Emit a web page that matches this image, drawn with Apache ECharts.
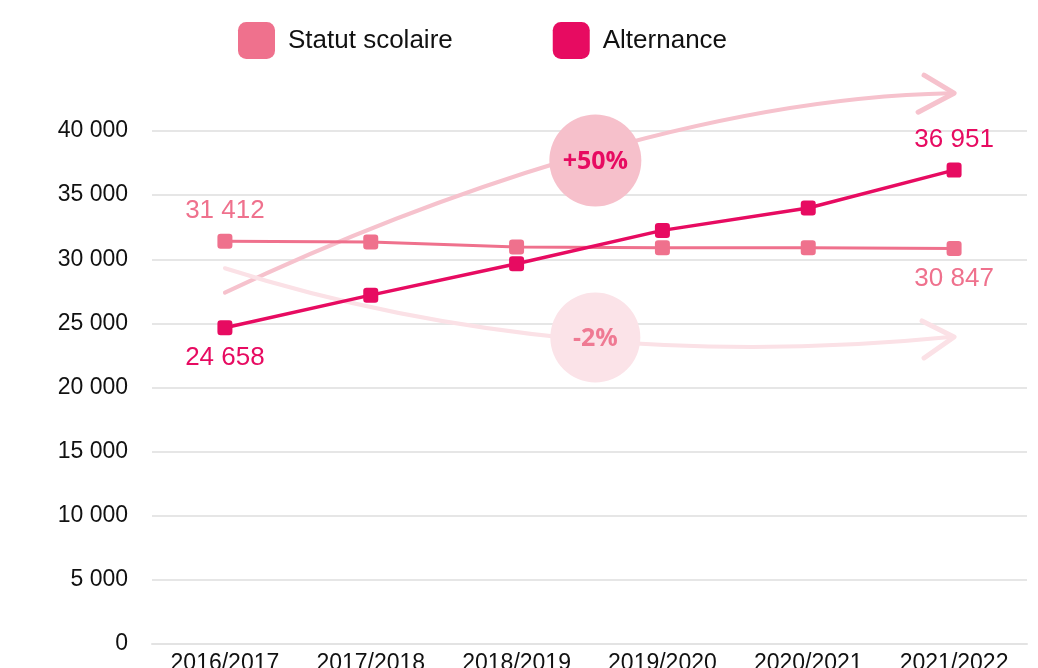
<!DOCTYPE html>
<html>
<head>
<meta charset="utf-8">
<script src="https://cdn.jsdelivr.net/npm/echarts@6/dist/echarts.min.js"></script>
<style>
  html, body { margin: 0; padding: 0; background: #fff; }
  #main { width: 1038px; height: 668px; }
</style>
</head>
<body>
<div id="main"></div>
<script>
// données
var years = ['2016/2017', '2017/2018', '2018/2019', '2019/2020', '2020/2021', '2021/2022'];
var statutScolaire = [31412, 31350, 30950, 30900, 30900, 30847];
var alternance = [24658, 27200, 29650, 32250, 34000, 36951];
var yTicks = [0, 5000, 10000, 15000, 20000, 25000, 30000, 35000, 40000];

var pinkLight = '#ef718d';
var pinkDark = '#e70b61';

function fmt(v) {
  return String(v).replace(/\B(?=(\d{3})+(?!\d))/g, ' ');
}

// étiquette seulement au début et à la fin
function withEndLabels(values, color, firstPos, lastPos) {
  return values.map(function (v, i) {
    var show = i === 0 || i === values.length - 1;
    return {
      value: v,
      label: {
        show: show,
        position: i === 0 ? firstPos : lastPos,
        distance: 10,
        color: color,
        fontSize: 26,
        fontFamily: 'Liberation Sans',
        formatter: function (p) { return fmt(p.value); }
      }
    };
  });
}

var roundSq = 'path://M8,0 H28 A8,8 0 0 1 36,8 V28 A8,8 0 0 1 28,36 H8 A8,8 0 0 1 0,28 V8 A8,8 0 0 1 8,0 Z';
var marker = 'path://M3,0 H11 A3,3 0 0 1 14,3 V11 A3,3 0 0 1 11,14 H3 A3,3 0 0 1 0,11 V3 A3,3 0 0 1 3,0 Z';

var chart = echarts.init(document.getElementById('main'));

var option = {
  animation: false,
  legend: {
    top: 17,
    left: 233,
    itemWidth: 37,
    itemHeight: 37,
    itemGap: 100,
    textStyle: { fontSize: 26, color: '#111', fontFamily: 'Liberation Sans', padding: [0, 0, 0, 8] },
    data: [
      { name: 'Statut scolaire', icon: roundSq },
      { name: 'Alternance', icon: roundSq }
    ]
  },
  grid: { left: 152, right: 11, top: 131, bottom: 24, outerBoundsMode: 'none' },
  xAxis: {
    type: 'category',
    data: years,
    axisLine: { lineStyle: { color: '#e3e3e3', width: 2 } },
    axisTick: { alignWithLabel: true, inside: true, length: 13, lineStyle: { color: '#e3e3e3', width: 1 } },
    axisLabel: { fontSize: 23, color: '#111', fontFamily: 'Liberation Sans', margin: 8 }
  },
  yAxis: {
    type: 'value',
    min: yTicks[0],
    max: yTicks[yTicks.length - 1],
    interval: 5000,
    axisLine: { show: false },
    axisTick: { show: false },
    axisLabel: { fontSize: 23, color: '#111', fontFamily: 'Liberation Sans', margin: 24, formatter: fmt },
    splitLine: { lineStyle: { color: '#e6e6e6', width: 2 } }
  },
  series: [
    {
      name: 'Statut scolaire',
      type: 'line',
      data: withEndLabels(statutScolaire, pinkLight, 'top', 'bottom'),
      symbol: marker,
      symbolSize: 15,
      itemStyle: { color: pinkLight },
      lineStyle: { color: pinkLight, width: 3 },
      z: 3
    },
    {
      name: 'Alternance',
      type: 'line',
      data: withEndLabels(alternance, pinkDark, 'bottom', 'top'),
      symbol: marker,
      symbolSize: 15,
      itemStyle: { color: pinkDark },
      lineStyle: { color: pinkDark, width: 3.5 },
      z: 4
    }
  ]
};

chart.setOption(option);

// flèches décoratives, placées d'après la grille
var px = function (i, v) { return chart.convertToPixel({ xAxisIndex: 0, yAxisIndex: 0 }, [i, v]); };
var upStart = px(0, 27400), upEnd = px(5, 42950);
var downStart = px(0, 29300), downEnd = px(5, 23940);
var col2 = px(2, 0)[0], col3 = px(3, 0)[0];
var midX = col2 + (col3 - col2) * 0.54;
var midUpY = px(0, 37700)[1], midDownY = px(0, 23900)[1];

chart.setOption({
  graphic: [
    {
      type: 'bezierCurve', z: 1, silent: true,
      shape: { x1: upStart[0], y1: upStart[1], cpx1: 420, cpy1: 200, cpx2: 700, cpy2: 98, x2: upEnd[0] - 4, y2: upEnd[1] },
      style: { stroke: '#f6c2cd', lineWidth: 4, fill: null, lineCap: 'round' }
    },
    {
      type: 'polyline', z: 1, silent: true,
      shape: { points: [[upEnd[0] - 30, upEnd[1] - 18], [upEnd[0], upEnd[1]], [upEnd[0] - 36, upEnd[1] + 19]] },
      style: { stroke: '#f6c2cd', lineWidth: 5, fill: null, lineCap: 'round', lineJoin: 'round' }
    },
    {
      type: 'bezierCurve', z: 1, silent: true,
      shape: { x1: downStart[0], y1: downStart[1], cpx1: 450, cpy1: 340, cpx2: 700, cpy2: 362, x2: downEnd[0] - 4, y2: downEnd[1] },
      style: { stroke: '#fbe1e6', lineWidth: 4, fill: null, lineCap: 'round' }
    },
    {
      type: 'polyline', z: 1, silent: true,
      shape: { points: [[downEnd[0] - 32, downEnd[1] - 16], [downEnd[0], downEnd[1]], [downEnd[0] - 30, downEnd[1] + 21]] },
      style: { stroke: '#fbe1e6', lineWidth: 5, fill: null, lineCap: 'round', lineJoin: 'round' }
    },
    {
      type: 'circle', z: 1, silent: true,
      shape: { cx: midX, cy: midUpY, r: 46 },
      style: { fill: '#f6c0cb' }
    },
    {
      type: 'text', z: 2, silent: true,
      x: midX, y: midUpY + 1,
      style: { text: '+50%', fill: pinkDark, font: 'bold 25px "Open Sans"', align: 'center', verticalAlign: 'middle' }
    },
    {
      type: 'circle', z: 1, silent: true,
      shape: { cx: midX, cy: midDownY, r: 45 },
      style: { fill: '#fbe3e8' }
    },
    {
      type: 'text', z: 2, silent: true,
      x: midX, y: midDownY + 1,
      style: { text: '-2%', fill: '#ef7a93', font: 'bold 25px "Open Sans"', align: 'center', verticalAlign: 'middle' }
    }
  ]
});
</script>
</body>
</html>
